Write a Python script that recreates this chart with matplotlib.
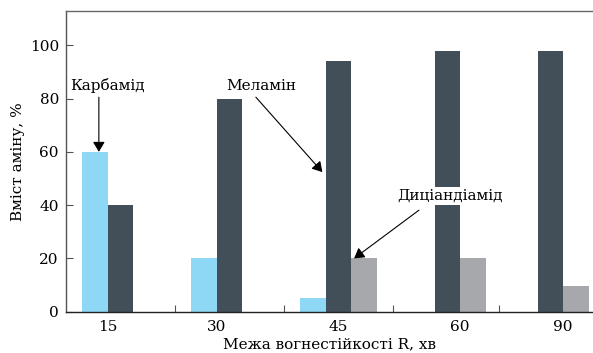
import numpy as np
import matplotlib.pyplot as plt

plt.rcParams['font.family'] = ['DejaVu Serif']

categories = ['15', '30', '45', '60', '90']
series_names = ['Карбамід', 'Меламін', 'Диціандіамід']
karbamid = [60, 20, 5, 0, 0]
melamin = [40, 80, 94, 98, 98]
dician = [0, 0, 20, 20, 9.5]
colors = ['#8ed8f5', '#424f58', '#a7a8ab']

xlabel = 'Межа вогнестійкості R, хв'
ylabel = 'Вміст аміну, %'

fig = plt.figure(figsize=(5.93, 3.53), dpi=100)
ax = fig.add_axes([0.111, 0.117, 0.889, 0.853])

x = np.array([0, 1, 2, 3, 3.945])  # last group sits a bit tighter in the original
w = 0.234
vals = [karbamid, melamin, dician]
for k in range(3):
    ax.bar(x + (k - 1) * w, vals[k], w, color=colors[k], linewidth=0)

# labels sit under the visible (non-zero) bars of each group
label_pos = []
for i in range(len(categories)):
    offs = [(k - 1) * w for k in range(3) if vals[k][i] > 0]
    label_pos.append(x[i] + np.mean(offs))
ax.set_xticks(label_pos)
ax.set_xticklabels(categories)
ax.tick_params(axis='x', length=0, labelsize=11, pad=6)
ax.set_xticks((x[:-1] + x[1:]) / 2, minor=True)
ax.tick_params(axis='x', which='minor', direction='in', length=5, width=0.8, color='#555555')

ax.set_yticks([0, 20, 40, 60, 80, 100])
ax.tick_params(axis='y', direction='in', length=5, width=0.8, color='#555555', labelsize=11, pad=5)

ax.set_xlim(-0.5, 4.335)
ax.set_ylim(0, 113)

ax.spines['right'].set_visible(False)
ax.spines['top'].set_color('#666666')
ax.spines['left'].set_color('#555555')
ax.spines['bottom'].set_color('#222222')
for s in ['top', 'left', 'bottom']:
    ax.spines[s].set_linewidth(1.0)

ax.set_xlabel(xlabel, fontsize=11, labelpad=2)
ax.set_ylabel(ylabel, fontsize=11, labelpad=3)

arrow = dict(arrowstyle='-|>,head_length=0.5,head_width=0.3', color='black', lw=0.8,
             mutation_scale=12, shrinkA=0, shrinkB=0)

# labels
ax.text(-0.115, 84.8, series_names[0], ha='center', va='center', fontsize=11)
ax.text(1.289, 84.8, series_names[1], ha='center', va='center', fontsize=11)
ax.text(3.023, 43.4, series_names[2], ha='center', va='center', fontsize=11,
        bbox=dict(boxstyle='square,pad=0.15', fc='white', ec='none'))

# arrows pointing at the bars
ax.annotate('', xy=(x[0] - w + 0.037, karbamid[0]), xytext=(x[0] - w + 0.037, 80.5),
            arrowprops=arrow)
ax.annotate('', xy=(x[2] - 0.5 * w - 0.03, 52.4), xytext=(1.243, 80.5),
            arrowprops=arrow)
ax.annotate('', xy=(x[2] + 0.5 * w + 0.027, dician[2]), xytext=(2.739, 38.1),
            arrowprops=arrow)

fig.savefig('out.png', dpi=100)
